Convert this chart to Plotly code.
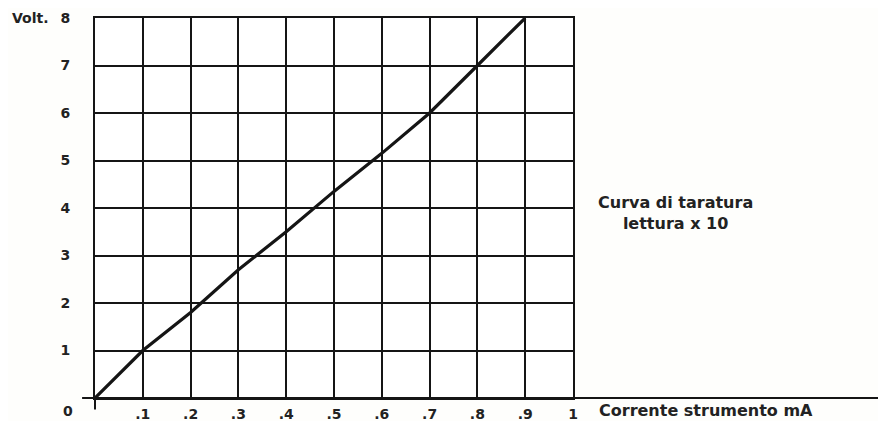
import plotly.graph_objects as go

# Data
corrente_mA = [0, 0.1, 0.2, 0.3, 0.4, 0.5, 0.6, 0.7, 0.8, 0.9]
volt = [0, 1.0, 1.8, 2.7, 3.5, 4.35, 5.15, 6.0, 7.0, 8.0]

x_tick_vals = [0.1, 0.2, 0.3, 0.4, 0.5, 0.6, 0.7, 0.8, 0.9, 1.0]
x_tick_text = [".1", ".2", ".3", ".4", ".5", ".6", ".7", ".8", ".9", "1"]
y_tick_vals = [1, 2, 3, 4, 5, 6, 7, 8]
y_tick_text = ["1", "2", "3", "4", "5", "6", "7", "8"]

INK = "#151515"
FONT = dict(family="DejaVu Sans", size=14, color="#222222", weight="bold")
BIG = dict(family="DejaVu Sans", size=16, color="#222222", weight="bold")

fig = go.Figure()
fig.add_trace(go.Scatter(
    x=corrente_mA, y=volt, mode="lines",
    line=dict(color=INK, width=3.2),
    hoverinfo="skip", showlegend=False,
))

# page body adds an 8px offset; figure sized to fill the remaining window
fig.update_layout(
    width=878, height=413,
    margin=dict(l=87, r=313, t=10, b=23, autoexpand=False),
    paper_bgcolor="#fefefc", plot_bgcolor="#ffffff",
    font=FONT,
    showlegend=False,
    xaxis=dict(
        range=[0, 1], tickmode="array", tickvals=x_tick_vals, ticktext=x_tick_text,
        showgrid=True, gridcolor=INK, gridwidth=1.8, zeroline=False,
        showline=True, linecolor=INK, linewidth=1.8, mirror=True, automargin=False,
        ticks="", ticklabelstandoff=2, tickfont=FONT, fixedrange=True,
    ),
    yaxis=dict(
        range=[0, 8], tickmode="array", tickvals=y_tick_vals, ticktext=y_tick_text,
        showgrid=True, gridcolor=INK, gridwidth=1.8, zeroline=False,
        showline=True, linecolor=INK, linewidth=1.8, mirror=True, automargin=False,
        ticks="", ticklabelstandoff=20, tickfont=FONT, fixedrange=True,
    ),
)

# extended x axis baseline and y axis stub below origin
fig.add_shape(type="line", xref="paper", yref="paper", x0=-0.027, x1=1.66, y0=0, y1=0,
              line=dict(color=INK, width=2))
fig.add_shape(type="line", xref="paper", yref="paper", x0=0, x1=0, y0=0, y1=-0.03,
              line=dict(color=INK, width=2))

fig.add_annotation(x=0, y=0, xref="x", yref="y", text="0", showarrow=False,
                   xanchor="center", yanchor="top", xshift=-27, yshift=-3, font=FONT)
fig.add_annotation(x=-0.178, y=8, xref="paper", yref="y", text="Volt.", showarrow=False,
                   xanchor="left", yanchor="middle", font=FONT)
fig.add_annotation(xref="paper", yref="paper", x=1.0, y=0, text="Corrente strumento mA",
                   showarrow=False, xanchor="left", yanchor="top", xshift=24, yshift=-1,
                   font=BIG)
fig.add_annotation(xref="paper", yref="y", x=1.215, y=3.9,
                   text="Curva di taratura<br>lettura x 10", showarrow=False,
                   xanchor="center", yanchor="middle", align="center", font=BIG)

fig.write_html("out.html")
